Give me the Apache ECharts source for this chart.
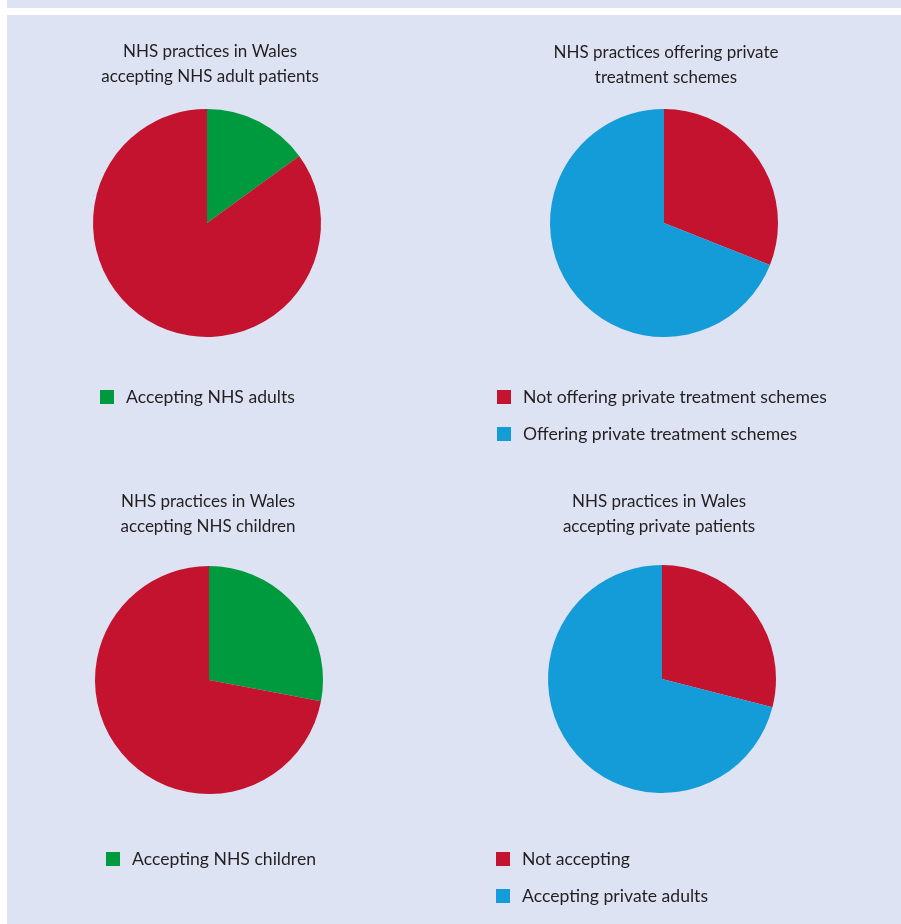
<!DOCTYPE html>
<html><head><meta charset="utf-8">
<script src="https://cdn.jsdelivr.net/npm/echarts@6/dist/echarts.min.js"></script>
<style>html,body{margin:0;padding:0;background:#fff}#c{width:901px;height:924px}</style>
</head><body><div id="c"></div>
<script>
const titles = [
  "NHS practices in Wales\naccepting NHS adult patients",
  "NHS practices offering private\ntreatment schemes",
  "NHS practices in Wales\naccepting NHS children",
  "NHS practices in Wales\naccepting private patients"
];
const names1 = ["Accepting NHS adults", "Not accepting NHS adults"];
const values1 = [15, 85];
const names2 = ["Not offering private treatment schemes", "Offering private treatment schemes"];
const values2 = [31, 69];
const names3 = ["Accepting NHS children", "Not accepting NHS children"];
const values3 = [28, 72];
const names4 = ["Not accepting", "Accepting private adults"];
const values4 = [29, 71];
const legend1 = ["Accepting NHS adults"];
const legend2 = ["Not offering private treatment schemes", "Offering private treatment schemes"];
const legend3 = ["Accepting NHS children"];
const legend4 = ["Not accepting", "Accepting private adults"];

const RED = '#c3132f', GREEN = '#009a3e', BLUE = '#149cd9';
const colors1 = [GREEN, RED], colors2 = [RED, BLUE], colors3 = [GREEN, RED], colors4 = [RED, BLUE];
const FONT = 'Lato';

const chart = echarts.init(document.getElementById('c'), null, {renderer: 'canvas'});
function mk(names, values, cols) {
  return names.map((n, i) => ({name: n, value: values[i], itemStyle: {color: cols[i]}}));
}
const layout = [
  {cx: 207, cy: 223, tx: 210, ty: 39, lx: 100, ly: 388},
  {cx: 664, cy: 223, tx: 666, ty: 40, lx: 497, ly: 388},
  {cx: 209, cy: 680, tx: 208, ty: 489, lx: 106, ly: 850},
  {cx: 662, cy: 679, tx: 659, ty: 489, lx: 496, ly: 850}
];
const data = [mk(names1, values1, colors1), mk(names2, values2, colors2), mk(names3, values3, colors3), mk(names4, values4, colors4)];
const legends = [legend1, legend2, legend3, legend4];

chart.setOption({
  backgroundColor: '#ffffff',
  animation: false,
  graphic: [
    {type: 'rect', shape: {x: 7, y: 0, width: 894, height: 8}, style: {fill: '#dee3f3'}, z: -10},
    {type: 'rect', shape: {x: 7, y: 15, width: 894, height: 909}, style: {fill: '#dee3f3'}, z: -10}
  ],
  title: layout.map((l, i) => ({
    text: titles[i], left: l.tx, top: l.ty, textAlign: 'center', padding: 0,
    textStyle: {fontFamily: FONT, fontSize: 17, fontWeight: 'normal', color: '#231f20', lineHeight: 25}
  })),
  legend: layout.map((l, i) => ({
    data: legends[i], left: l.lx, top: l.ly, orient: 'vertical', padding: 0,
    itemWidth: 14, itemHeight: 14, itemGap: 19, icon: 'rect', selectedMode: false,
    textStyle: {fontFamily: FONT, fontSize: 17.6, color: '#231f20', padding: [0, 0, 0, 7]}
  })),
  series: layout.map((l, i) => ({
    type: 'pie', center: [l.cx, l.cy], radius: 114, startAngle: 90, clockwise: true,
    label: {show: false}, labelLine: {show: false}, silent: true,
    itemStyle: {borderWidth: 0},
    data: data[i]
  }))
});
</script></body></html>
